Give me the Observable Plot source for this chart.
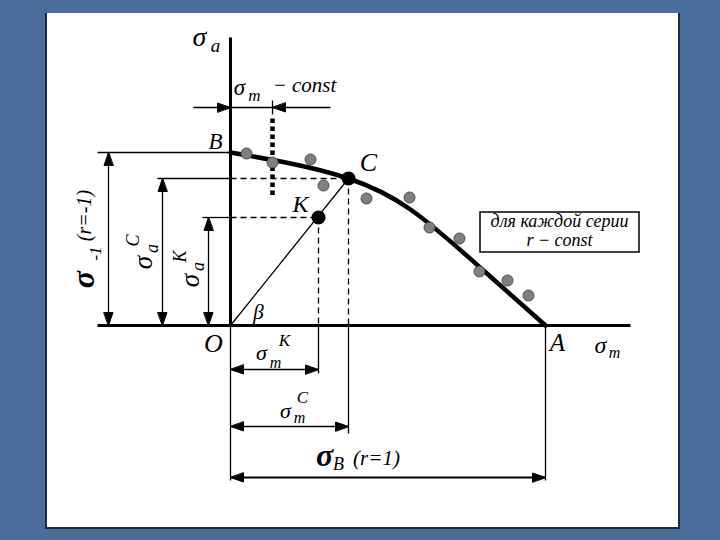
<!DOCTYPE html>
<html><head><meta charset="utf-8">
<script src="https://cdn.jsdelivr.net/npm/d3@7"></script>
<script src="https://cdn.jsdelivr.net/npm/@observablehq/plot@0.6"></script>
<style>
html,body{margin:0;padding:0;background:#4a6d9c;width:720px;height:540px;overflow:hidden;}
#panel{position:absolute;left:45px;top:13px;width:631px;height:514px;background:#fff;border-left:2px solid #1c2a40;border-right:2px solid #1c2a40;border-bottom:2px solid #1c2a40;}
#chart{position:absolute;left:0;top:0;}
</style></head><body>
<div id="panel"></div><div id="chart"></div>
<script>
// ---- data (σm, σa in diagram units) ----
const curveM = [0, 60, 118, 180, 253, 315];
const curveA = [173, 162, 147, 116, 55, 0];
const testM = [16, 42, 80, 93, 136, 179, 199, 229, 249, 277, 298];
const testA = [172, 163, 166, 140, 127, 128, 98, 87, 54, 45, 30];
const keyNames = ["C", "K"];
const keyM = [118, 88];
const keyA = [147, 108];
const sigmaB = 315;      // point A
const sigmaMinus1 = 173; // point B
const sigmaMconst = 42;

const C = {m: keyM[0], a: keyA[0]}, K = {m: keyM[1], a: keyA[1]};
const curve = curveM.map((m, i) => ({m, a: curveA[i]}));
const tests = testM.map((m, i) => ({m, a: testA[i]}));
const keys = keyNames.map((n, i) => ({n, m: keyM[i], a: keyA[i]}));

// ---- layout of dimension lines ----
const dimX = {s1: -122, sC: -68, sK: -22};
const dimY = {mK: -44, mC: -101, B: -152, const: 218};

const seg = (x1, y1, x2, y2) => ({x1, y1, x2, y2});
const axes = [seg(0, 0, 0, 288), seg(-133, 0, 400, 0)];
const thin = [
  seg(-133, sigmaMinus1, 0, sigmaMinus1), seg(-73, C.a, 0, C.a), seg(-28, K.a, 0, K.a),
  seg(dimX.s1, 0, dimX.s1, sigmaMinus1), seg(dimX.sC, 0, dimX.sC, C.a), seg(dimX.sK, 0, dimX.sK, K.a),
  seg(0, 0, C.m, C.a),
  seg(0, 0, 0, -155), seg(K.m, 0, K.m, -48), seg(C.m, 0, C.m, -108), seg(sigmaB, 0, sigmaB, -155),
  seg(0, dimY.mK, K.m, dimY.mK), seg(0, dimY.mC, C.m, dimY.mC),
  seg(-37, dimY.const, 100, dimY.const), seg(sigmaMconst, 211, sigmaMconst, 225)
];
const dimB = [seg(0, dimY.B, sigmaB, dimY.B)];
const dashed = [seg(0, C.a, C.m, C.a), seg(0, K.a, K.m, K.a), seg(K.m, K.a, K.m, 0), seg(C.m, C.a, C.m, 0)];
const dotted = [seg(sigmaMconst, 207, sigmaMconst, 130)];

// arrowheads: tip + direction
const heads = [
  [dimX.s1, sigmaMinus1, 0, 1], [dimX.s1, 0, 0, -1],
  [dimX.sC, C.a, 0, 1], [dimX.sC, 0, 0, -1],
  [dimX.sK, K.a, 0, 1], [dimX.sK, 0, 0, -1],
  [0, dimY.mK, -1, 0], [K.m, dimY.mK, 1, 0],
  [0, dimY.mC, -1, 0], [C.m, dimY.mC, 1, 0],
  [0, dimY.B, -1, 0], [sigmaB, dimY.B, 1, 0],
  [0, dimY.const, 1, 0], [sigmaMconst, dimY.const, -1, 0]
];
const L = 13, W = 4.5;
const tri = [];
heads.forEach(([x, y, dx, dy], i) => {
  const px = -dy, py = dx;
  tri.push({id: i, x, y});
  tri.push({id: i, x: x - dx * L + px * W, y: y - dy * L + py * W});
  tri.push({id: i, x: x - dx * L - px * W, y: y - dy * L - py * W});
});

// labels
const lab = (t, x, y, s) => ({t, x, y, s});
const labels = [
  lab("σ", -31, 288, 28), lab("a", -15, 280, 19),
  lab("σ", 9, 238, 23), lab("m", 24, 230, 17), lab("− const", 74, 240, 21),
  lab("B", -15, 184, 23), lab("C", 138, 163, 26), lab("K", 70, 121, 24),
  lab("O", -17, -18, 26), lab("A", 327, -17, 25),
  lab("σ", 370, -20, 24), lab("m", 384, -27, 16),
  lab("β", 28, 13, 21),
  lab("σ", 31, -27, 22), lab("m", 45, -37, 16), lab("K", 54, -15, 17),
  lab("σ", 55, -85, 22), lab("m", 69, -92, 16), lab("C", 72, -72, 17),
  lab("B", 108, -139, 18), lab("(r=1)", 146, -133, 21),
  lab("для каждой серии", 329, 104, 18), lab("r − const", 329, 85, 18)
];
const boldLabels = [lab("σ", 94, -130, 32)];
const rotLabels = [
  lab("-1", -135, 72, 17), lab("(r=-1)", -146, 110, 20),
  lab("σ", -87, 63, 27), lab("a", -78, 77, 18), lab("C", -97, 85, 18),
  lab("σ", -40, 45, 27), lab("a", -32, 59, 18), lab("K", -50, 69, 18)
];
const rotBold = [lab("σ", -147, 46, 32)];
const box = [{x1: 250, x2: 409, y1: 113, y2: 73}];

const font = "'Liberation Serif', 'Times New Roman', 'DejaVu Serif', serif";
const link = (d, o) => Plot.link(d, {x1: "x1", y1: "y1", x2: "x2", y2: "y2", stroke: "black", ...o});

const chart = Plot.plot({
  width: 720, height: 540, margin: 0,
  x: {domain: [-230, 490], axis: null},
  y: {domain: [-215, 325], axis: null},
  style: {background: "transparent", overflow: "visible"},
  marks: [
    Plot.rect(box, {x1: "x1", x2: "x2", y1: "y1", y2: "y2", fill: "white", stroke: "black", strokeWidth: 1.5}),
    link(thin, {strokeWidth: 1.3}),
    link(dimB, {strokeWidth: 2}),
    link(dashed, {strokeWidth: 1.3, strokeDasharray: "6,4"}),
    link(dotted, {strokeWidth: 4.5, strokeDasharray: "4.5,3.5"}),
    link(axes, {strokeWidth: 3}),
    Plot.line(tri, {x: "x", y: "y", z: "id", fill: "black", stroke: "black", strokeWidth: 1, curve: "linear-closed"}),
    Plot.line(curve, {x: "m", y: "a", curve: "natural", stroke: "black", strokeWidth: 4.5}),
    Plot.dot(tests, {x: "m", y: "a", r: 5.5, fill: "#7f7f7f", stroke: "#4d4d4d", strokeWidth: 1}),
    Plot.dot(keys, {x: "m", y: "a", r: 7, fill: "black"}),
    Plot.text(labels, {x: "x", y: "y", text: "t", fontSize: "s", fontFamily: font, fontStyle: "italic", fill: "black"}),
    Plot.text(boldLabels, {x: "x", y: "y", text: "t", fontSize: "s", fontFamily: font, fontStyle: "italic", fontWeight: "bold", fill: "black"}),
    Plot.text(rotLabels, {x: "x", y: "y", text: "t", fontSize: "s", rotate: -90, fontFamily: font, fontStyle: "italic", fill: "black"}),
    Plot.text(rotBold, {x: "x", y: "y", text: "t", fontSize: "s", rotate: -90, fontFamily: font, fontStyle: "italic", fontWeight: "bold", fill: "black"})
  ]
});
document.getElementById("chart").appendChild(chart);
</script>
</body></html>
